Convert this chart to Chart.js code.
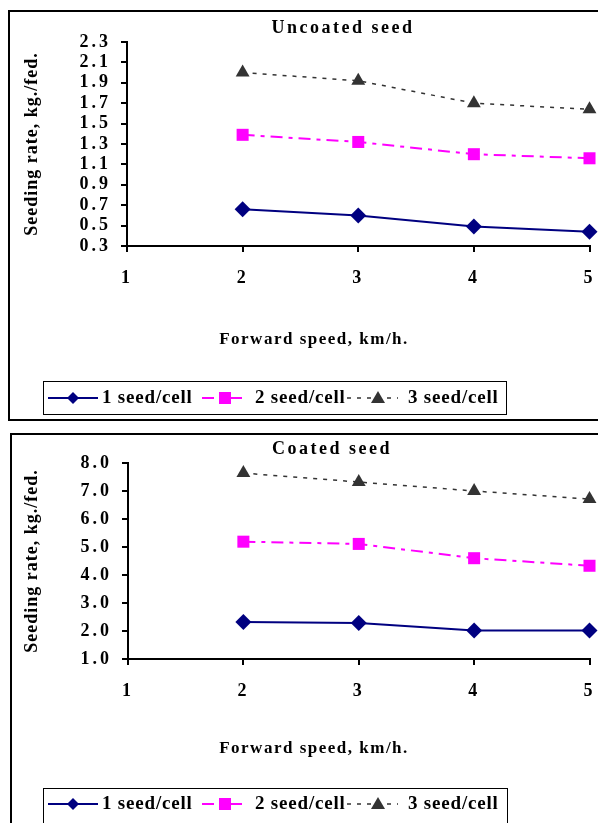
<!DOCTYPE html>
<html>
<head>
<meta charset="utf-8">
<script src="https://cdn.jsdelivr.net/npm/chart.js@4.4.1/dist/chart.umd.min.js"></script>
<style>
  body { margin: 0; background: #fff; width: 598px; height: 823px; overflow: hidden; position: relative; }
  canvas { position: absolute; left: 0; }
</style>
</head>
<body>
<canvas id="uncoated" width="598" height="425" style="top:0"></canvas>
<canvas id="coated" width="598" height="398" style="top:425px"></canvas>
<script>
// forward speed, km/h
const speeds = [2, 3, 4, 5];
const xTicks = [1, 2, 3, 4, 5];
const seriesNames = ['1 seed/cell', '2 seed/cell', '3 seed/cell'];

// seeding rate, kg/fed. - uncoated seed
const uncoated1 = [0.66, 0.60, 0.49, 0.44];
const uncoated2 = [1.39, 1.32, 1.20, 1.16];
const uncoated3 = [2.00, 1.92, 1.70, 1.64];
const uncoatedTicks = ['0.3', '0.5', '0.7', '0.9', '1.1', '1.3', '1.5', '1.7', '1.9', '2.1', '2.3'];

// seeding rate, kg/fed. - coated seed
const coated1 = [2.32, 2.29, 2.02, 2.02];
const coated2 = [5.19, 5.11, 4.60, 4.33];
const coated3 = [7.64, 7.32, 7.00, 6.71];
const coatedTicks = ['1.0', '2.0', '3.0', '4.0', '5.0', '6.0', '7.0', '8.0'];

const FONT = '"Liberation Serif", "Times New Roman", serif';
const styles = [
  { color: '#000080', style: 'rectRot', radius: 8, dash: [], width: 2 },
  { color: '#ff00ff', style: 'rect', radius: 8.5, dash: [12, 6, 4, 6], width: 2 },
  { color: '#333333', style: 'triangle', radius: 8, dash: [4, 6], width: 1.5 }
];

function marker(ctx, kind, x, y, color) {
  ctx.save();
  ctx.fillStyle = color;
  ctx.beginPath();
  if (kind === 'rectRot') {
    ctx.moveTo(x, y - 6); ctx.lineTo(x + 6, y); ctx.lineTo(x, y + 6); ctx.lineTo(x - 6, y);
  } else if (kind === 'rect') {
    ctx.rect(x - 6, y - 6, 12, 12);
  } else {
    ctx.moveTo(x, y - 7); ctx.lineTo(x + 7, y + 5); ctx.lineTo(x - 7, y + 5);
  }
  ctx.closePath();
  ctx.fill();
  ctx.restore();
}

// frame, titles and the boxed legend under each plot
const decorations = {
  id: 'decorations',
  beforeDraw(chart) {
    chart.ctx.letterSpacing = '3px';
  },
  afterDraw(chart, args, o) {
    const ctx = chart.ctx;
    ctx.save();
    ctx.letterSpacing = '0px';
    ctx.strokeStyle = '#000';
    ctx.lineWidth = 2;
    ctx.strokeRect(o.frame[0], o.frame[1], o.frame[2], o.frame[3]);

    ctx.fillStyle = '#000';
    ctx.textBaseline = 'middle';
    ctx.textAlign = 'center';
    ctx.letterSpacing = '2.5px';
    ctx.font = 'bold 18px ' + FONT;
    ctx.fillText(o.title, o.titlePos[0], o.titlePos[1]);
    ctx.letterSpacing = '1.5px';
    ctx.font = 'bold 17px ' + FONT;
    ctx.fillText('Forward speed, km/h.', o.xTitle[0], o.xTitle[1]);

    ctx.save();
    ctx.translate(o.yTitle[0], o.yTitle[1]);
    ctx.rotate(-Math.PI / 2);
    ctx.letterSpacing = '1px';
    ctx.font = 'bold 18px ' + FONT;
    ctx.fillText('Seeding rate, kg./fed.', 0, 0);
    ctx.restore();

    // legend
    const L = o.legend;
    ctx.lineWidth = 1;
    ctx.strokeRect(L.x + 0.5, L.y + 0.5, L.w, L.h);
    const items = [
      { x0: 48, x1: 98, m: 73, tx: 102 },
      { x0: 202, x1: 244, m: 225, tx: 255 },
      { x0: 347, x1: 398, m: 378, tx: 408 }
    ];
    items.forEach((it, i) => {
      const s = styles[i];
      ctx.save();
      ctx.strokeStyle = s.color;
      ctx.lineWidth = s.width;
      ctx.setLineDash(s.dash);
      ctx.beginPath();
      ctx.moveTo(it.x0, L.ty);
      ctx.lineTo(it.x1, L.ty);
      ctx.stroke();
      ctx.restore();
      marker(ctx, s.style, it.m, L.ty, s.color);
      ctx.textAlign = 'left';
      ctx.letterSpacing = '0.8px';
      ctx.font = 'bold 19px ' + FONT;
      ctx.fillText(seriesNames[i], it.tx, L.ty);
    });
    ctx.restore();
  }
};

function makeChart(id, values, tickLabels, area, deco) {
  const yMin = parseFloat(tickLabels[0]);
  const yMax = parseFloat(tickLabels[tickLabels.length - 1]);
  const canvas = document.getElementById(id);
  return new Chart(canvas, {
    type: 'line',
    data: {
      datasets: values.map((v, i) => ({
        label: seriesNames[i],
        data: speeds.map((x, j) => ({ x: x, y: v[j] })),
        borderColor: styles[i].color,
        backgroundColor: styles[i].color,
        borderWidth: styles[i].width,
        borderDash: styles[i].dash,
        pointStyle: styles[i].style,
        pointRadius: styles[i].radius,
        pointBorderWidth: 0,
        tension: 0,
        clip: false
      }))
    },
    options: {
      responsive: false,
      animation: false,
      layout: { padding: { top: area.top, right: canvas.width - area.right, left: 0, bottom: 0 } },
      plugins: {
        legend: { display: false },
        tooltip: { enabled: false },
        decorations: deco
      },
      scales: {
        x: {
          type: 'linear',
          min: xTicks[0],
          max: xTicks[xTicks.length - 1],
          afterBuildTicks: s => { s.ticks = xTicks.map(v => ({ value: v })); },
          afterFit: s => {
            s.height = canvas.height - area.bottom;
            s.paddingLeft = 0;
            s.paddingRight = 0;
          },
          border: { color: '#000', width: 2 },
          grid: { drawOnChartArea: false, color: '#000', lineWidth: 2, tickLength: 6 },
          ticks: { color: '#000', padding: 16, font: { family: FONT, size: 18, weight: 'bold' }, maxRotation: 0, autoSkip: false }
        },
        y: {
          min: yMin,
          max: yMax,
          afterBuildTicks: s => { s.ticks = tickLabels.map(t => ({ value: parseFloat(t) })); },
          afterFit: s => {
            s.width = area.left;
            s.paddingTop = 0;
            s.paddingBottom = 0;
          },
          border: { color: '#000', width: 2 },
          grid: { drawOnChartArea: false, color: '#000', lineWidth: 2, tickLength: 6 },
          ticks: {
            color: '#000', padding: 10, autoSkip: false,
            font: { family: FONT, size: 18, weight: 'bold' },
            callback: (v) => tickLabels.find(t => Math.abs(parseFloat(t) - v) < 1e-6) || ''
          }
        }
      }
    },
    plugins: [decorations]
  });
}

makeChart('uncoated', [uncoated1, uncoated2, uncoated3], uncoatedTicks,
  { left: 127, right: 591, top: 42, bottom: 246 },
  {
    frame: [9, 11, 600, 409],
    title: 'Uncoated seed', titlePos: [343, 28],
    xTitle: [314, 340], yTitle: [32, 144],
    legend: { x: 43, y: 381, w: 463, h: 33, ty: 398 }
  });

makeChart('coated', [coated1, coated2, coated3], coatedTicks,
  { left: 128, right: 591, top: 38, bottom: 234 },
  {
    frame: [11, 9, 600, 500],
    title: 'Coated seed', titlePos: [332, 24],
    xTitle: [314, 324], yTitle: [32, 136],
    legend: { x: 43, y: 363, w: 464, h: 40, ty: 379 }
  });
</script>
</body>
</html>
